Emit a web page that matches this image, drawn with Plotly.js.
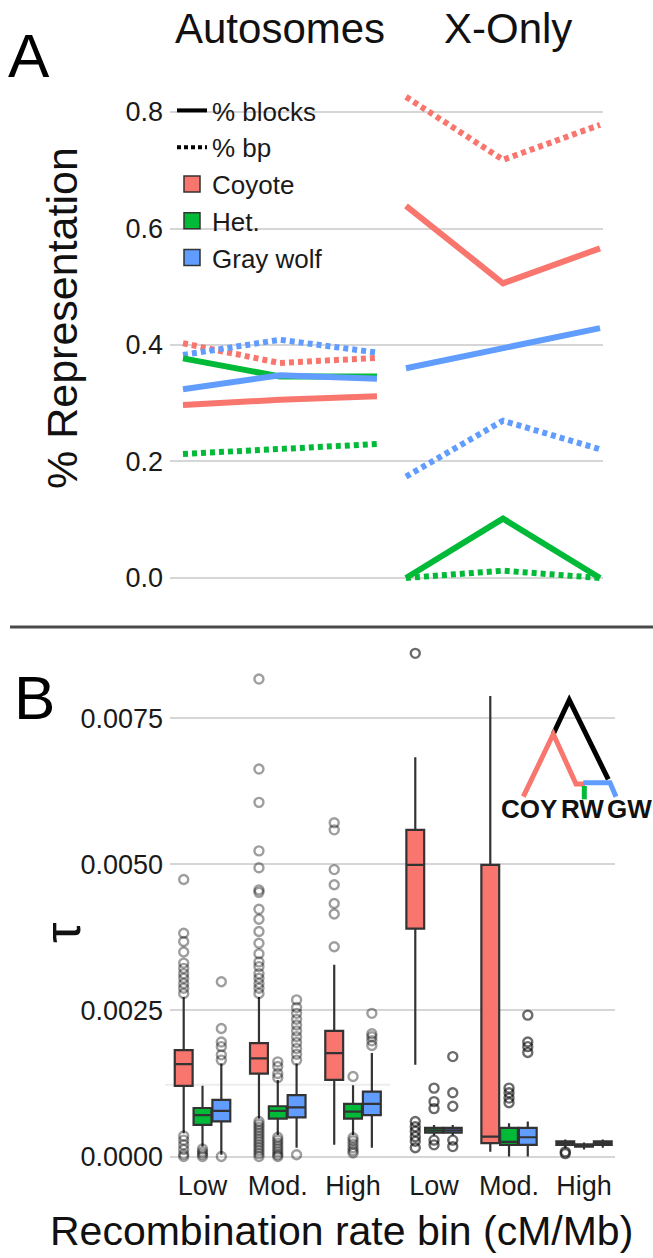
<!DOCTYPE html>
<html><head><meta charset="utf-8">
<script src="https://cdn.plot.ly/plotly-3.0.1.min.js"></script>
<style>html,body{margin:0;padding:0;background:#fff}#chart{width:653px;height:1258px}</style>
</head><body><div id="chart"></div>
<script>
// ---------- categories ----------
const bins = ["Low", "Mod.", "High"];
const speciesNames = ["Coyote", "Het.", "Gray wolf"];
const speciesKeys = ["coy", "het", "gw"];
const speciesColors = ["#F8766D", "#00BA38", "#619CFF"];

// ---------- Panel A: % representation ----------
const autoBlocksCoyote   = [0.297, 0.306, 0.312];
const autoBlocksHet      = [0.377, 0.346, 0.346];
const autoBlocksGrayWolf = [0.324, 0.348, 0.342];
const autoBpCoyote       = [0.403, 0.369, 0.378];
const autoBpHet          = [0.213, 0.221, 0.230];
const autoBpGrayWolf     = [0.383, 0.409, 0.387];
const xBlocksCoyote      = [0.639, 0.506, 0.566];
const xBlocksHet         = [0.000, 0.102, 0.000];
const xBlocksGrayWolf    = [0.360, 0.394, 0.429];
const xBpCoyote          = [0.826, 0.718, 0.778];
const xBpHet             = [0.000, 0.0125, 0.000];
const xBpGrayWolf        = [0.174, 0.270, 0.221];

// ---------- Panel B: tau box statistics (per bin) ----------
const autoTauCoyote   = {q1:[0.00121,0.00142,0.00131], median:[0.00158,0.00168,0.00177], q3:[0.00182,0.00194,0.00215], lowerfence:[0.00040,0.00065,0.00020], upperfence:[0.00273,0.00273,0.00328]};
const autoTauHet      = {q1:[0.00054,0.00065,0.00065], median:[0.00071,0.00078,0.00077], q3:[0.00083,0.00086,0.00090], lowerfence:[0.00017,0.00037,0.00037], upperfence:[0.00121,0.00131,0.00122]};
const autoTauGrayWolf = {q1:[0.00060,0.00067,0.00071], median:[0.00078,0.00084,0.00090], q3:[0.00097,0.00105,0.00111], lowerfence:[0.00003,0.00015,0.00015], upperfence:[0.00159,0.00159,0.00177]};
const xTauCoyote      = {q1:[0.00390,0.00023,0.00020], median:[0.00499,0.00034,0.00023], q3:[0.00559,0.00499,0.00026], lowerfence:[0.00157,0.00008,0.00014], upperfence:[0.00683,0.00788,0.00029]};
const xTauHet         = {q1:[0.00041,0.00020,0.00017], median:[0.00045,0.00025,0.00019], q3:[0.00049,0.00049,0.00021], lowerfence:[0.00036,0.00000,0.00012], upperfence:[0.00054,0.00057,0.00024]};
const xTauGrayWolf    = {q1:[0.00041,0.00020,0.00020], median:[0.00045,0.00033,0.00022], q3:[0.00049,0.00049,0.00026], lowerfence:[0.00036,0.00000,0.00015], upperfence:[0.00054,0.00060,0.00029]};

// ---------- Panel B: outliers (per bin) ----------
const autoOutCoyote = [
  [0.00474,0.00382,0.00368,0.00350,0.00331,0.00322,0.00313,0.00305,0.00296,0.00288,0.00279,0.00035,0.00028,0.00020,0.00012,0.00004,0.0],
  [0.00817,0.00663,0.00606,0.00523,0.00494,0.00456,0.00452,0.00423,0.00406,0.00385,0.00365,0.00347,0.00333,0.00325,0.00313,0.00305,0.00296,0.00288,0.00279,0.00060,0.00055,0.00050,0.00045,0.00040,0.00035,0.00030,0.00025,0.00020,0.00015,0.00010,0.00005,0.0],
  [0.00571,0.00559,0.00491,0.00465,0.00433,0.00415,0.00359]
];
const autoOutHet = [
  [0.00013,0.00008,0.00004,0.0],
  [0.00162,0.00154,0.00142,0.00135,0.00033,0.00028,0.00023,0.00018,0.00013,0.00008,0.00003,0.0],
  [0.00137,0.00032,0.00027,0.00021,0.00015,0.00010,0.00006]
];
const autoOutGrayWolf = [
  [0.00299,0.00219,0.00196,0.00188,0.00174,0.00165,0.0],
  [0.00268,0.00255,0.00245,0.00235,0.00225,0.00215,0.00205,0.00195,0.00185,0.00175,0.00165,0.00003],
  [0.00245,0.00210,0.00205,0.00198,0.00190]
];
const xOutCoyote = [
  [0.00861,0.00060,0.00051,0.00043,0.00034,0.00026,0.00015],
  [],
  [0.00008,0.00005]
];
const xOutHet = [
  [0.00117,0.00094,0.00082,0.00028,0.00020],
  [0.00117,0.00109,0.00100,0.00092],
  []
];
const xOutGrayWolf = [
  [0.00171,0.00109,0.00086,0.00028,0.00017],
  [0.00242,0.00196,0.00188,0.00178],
  []
];

// ---------- helpers ----------
const W = 653, H = 1258;
const px = v => v / W;
const py = v => 1 - v / H;
const FONT = "Liberation Sans, Arial, Helvetica, sans-serif";
const DOT = "5px,4px";

const traces = [];

// Panel A lines
const panelA = [
  {xa: "x",  blocks: [autoBlocksCoyote, autoBlocksHet, autoBlocksGrayWolf], bp: [autoBpCoyote, autoBpHet, autoBpGrayWolf]},
  {xa: "x2", blocks: [xBlocksCoyote, xBlocksHet, xBlocksGrayWolf],          bp: [xBpCoyote, xBpHet, xBpGrayWolf]}
];
panelA.forEach(p => {
  [0, 1, 2].forEach(i => {
    traces.push({type: "scatter", mode: "lines", x: bins, y: p.bp[i], xaxis: p.xa, yaxis: "y",
      line: {color: speciesColors[i], width: 6, dash: DOT}, showlegend: false, hoverinfo: "skip", offsetgroup: "A"});
  });
  [0, 1, 2].forEach(i => {
    traces.push({type: "scatter", mode: "lines", x: bins, y: p.blocks[i], xaxis: p.xa, yaxis: "y",
      line: {color: speciesColors[i], width: 6}, showlegend: false, hoverinfo: "skip", offsetgroup: "A"});
  });
});

// Legend entries
traces.push({type: "scatter", mode: "lines", name: "% blocks", x: [null], y: [null], xaxis: "x", yaxis: "y",
  line: {color: "#000", width: 4}, offsetgroup: "A"});
traces.push({type: "scatter", mode: "lines", name: "% bp", x: [null], y: [null], xaxis: "x", yaxis: "y",
  line: {color: "#000", width: 4, dash: "4px,3px"}, offsetgroup: "A"});
speciesNames.forEach((n, i) => {
  traces.push({type: "scatter", mode: "markers", name: n, x: [null], y: [null], xaxis: "x", yaxis: "y",
    marker: {symbol: "square", size: 16, color: speciesColors[i], line: {color: "#333", width: 1.5}}, offsetgroup: "A"});
});

// Panel B boxes and outliers
const panelB = [
  {xa: "x3", stats: [autoTauCoyote, autoTauHet, autoTauGrayWolf], outs: [autoOutCoyote, autoOutHet, autoOutGrayWolf], alpha: 0.38},
  {xa: "x4", stats: [xTauCoyote, xTauHet, xTauGrayWolf],          outs: [xOutCoyote, xOutHet, xOutGrayWolf],          alpha: 0.58}
];
panelB.forEach(p => {
  [0, 1, 2].forEach(i => {
    const s = p.stats[i];
    traces.push({type: "box", x: bins, q1: s.q1, median: s.median, q3: s.q3,
      lowerfence: s.lowerfence, upperfence: s.upperfence, boxpoints: false,
      xaxis: p.xa, yaxis: "y2", offsetgroup: speciesKeys[i], name: speciesNames[i], showlegend: false,
      fillcolor: speciesColors[i], line: {color: "#333333", width: 2.2}, whiskerwidth: 0, hoverinfo: "skip"});
  });
  [0, 1, 2].forEach(i => {
    const xs = [], ys = [];
    p.outs[i].forEach((arr, b) => arr.forEach(v => { xs.push(bins[b]); ys.push(v); }));
    traces.push({type: "scatter", mode: "markers", x: xs, y: ys, xaxis: p.xa, yaxis: "y2",
      offsetgroup: speciesKeys[i], showlegend: false, hoverinfo: "skip",
      marker: {symbol: "circle-open", size: 9, color: "rgba(0,0,0," + p.alpha + ")", line: {width: 2.4}}});
  });
});

const catAxis = (domain, range, anchor, showLabels) => ({
  type: "category", categoryorder: "array", categoryarray: bins,
  domain: domain, range: range, anchor: anchor,
  showgrid: false, zeroline: false, showline: false, ticks: "",
  showticklabels: showLabels, tickfont: {size: 27, family: FONT, color: "#1a1a1a"},
  ticklabelstandoff: 2
});

const P = (pts) => pts.map((p, k) => (k ? "L" : "M") + px(p[0]).toFixed(4) + "," + py(p[1]).toFixed(4)).join(" ");
const treeLine = (pts, color) => ({type: "path", xref: "paper", yref: "paper", path: P(pts), line: {color: color, width: 5}});

const ann = (text, x, y, size, extra) => Object.assign({
  text: text, x: px(x), y: py(y), xref: "paper", yref: "paper", showarrow: false,
  xanchor: "center", yanchor: "middle", font: {size: size, family: FONT, color: "#111"}
}, extra || {});

const layout = {
  width: W, height: H,
  margin: {l: 0, r: 0, t: 0, b: 0},
  paper_bgcolor: "#ffffff", plot_bgcolor: "#ffffff",
  font: {family: FONT, size: 27, color: "#1a1a1a"},
  showlegend: true,
  legend: {x: px(172), y: py(87), xanchor: "left", yanchor: "top", bgcolor: "rgba(0,0,0,0)",
    font: {family: FONT, size: 26, color: "#1a1a1a"}, tracegroupgap: 0, itemwidth: 30, traceorder: "normal"},
  boxmode: "group", boxgap: 0.25, boxgroupgap: 0.05,
  scattermode: "group", scattergap: 0.25,
  xaxis:  catAxis([px(170), px(392)], [-0.134, 2.155], "y", false),
  xaxis2: catAxis([px(392), px(603)], [-0.144, 2.031], "y", false),
  xaxis3: catAxis([px(170), px(393)], [-0.432, 2.531], "y2", true),
  xaxis4: catAxis([px(393), px(615)], [-0.547, 2.413], "y2", true),
  yaxis: {domain: [py(600), py(90)], range: [-0.0378, 0.8378], anchor: "x",
    tickvals: [0, 0.2, 0.4, 0.6, 0.8], tickformat: ".1f", ticks: "",
    showgrid: true, gridcolor: "#d6d6d6", gridwidth: 2, zeroline: false, showline: false,
    tickfont: {size: 27, family: FONT, color: "#1a1a1a"}, ticklabelstandoff: 6},
  yaxis2: {domain: [py(1165), py(643)], range: [-0.000145, 0.008787], anchor: "x3",
    tickvals: [0, 0.0025, 0.005, 0.0075], tickformat: ".4f", ticks: "",
    showgrid: true, gridcolor: "#d6d6d6", gridwidth: 2, zeroline: false, showline: false,
    tickfont: {size: 27, family: FONT, color: "#1a1a1a"}, ticklabelstandoff: 6},
  shapes: [
    {type: "line", xref: "paper", yref: "paper", x0: px(10), x1: 1, y0: py(627), y1: py(627), line: {color: "#4a4a4a", width: 3}},
    {type: "line", xref: "paper", yref: "y2", x0: px(165), x1: px(390), y0: 0.00123, y1: 0.00123, line: {color: "#ececec", width: 2}, layer: "below"},
    treeLine([[553.3, 734], [569.3, 700], [608.3, 779.3]], "#000000"),
    treeLine([[523.3, 796.7], [553.3, 734], [576, 784], [585, 784]], "#F8766D"),
    treeLine([[583.3, 782.7], [610, 782.7], [616, 796.7]], "#619CFF"),
    treeLine([[584.3, 786], [584.3, 799.3]], "#00BA38")
  ],
  annotations: [
    ann("A", 29, 55, 62, {font: {size: 62, family: FONT, color: "#000"}}),
    ann("B", 34, 698, 62, {font: {size: 62, family: FONT, color: "#000"}}),
    ann("Autosomes", 280, 29, 42),
    ann("X-Only", 508, 29, 42),
    ann("% Representation", 62, 318, 43, {textangle: -90}),
    ann("τ", 62, 933, 52, {textangle: -90}),
    ann("Recombination rate bin (cM/Mb)", 342, 1231, 41),
    ann("<b>COY</b>", 529, 809, 26),
    ann("<b>RW</b>", 582, 809, 26),
    ann("<b>GW</b>", 629, 809, 26)
  ]
};

Plotly.newPlot("chart", traces, layout, {displayModeBar: false, staticPlot: true});
</script>
</body></html>
